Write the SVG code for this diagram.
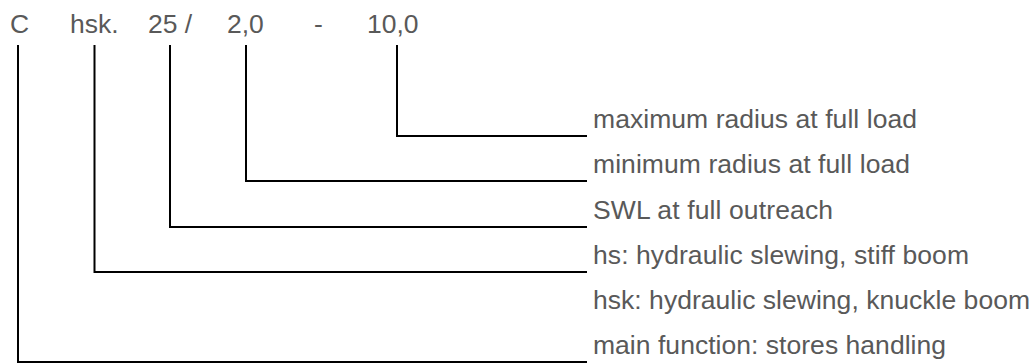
<svg xmlns="http://www.w3.org/2000/svg" width="1035" height="363" viewBox="0 0 1035 363">
<style>
text{font-family:"Liberation Sans",Arial,sans-serif;font-size:26.5px;fill:#595959}
.c{fill:none;stroke:#000;stroke-width:2}
</style>
<rect width="1035" height="363" fill="#fff"/>
<g id="code">
<text x="10" y="33">C</text>
<text x="70" y="33">hsk.</text>
<text x="148" y="33">25 /</text>
<text x="227" y="33">2,0</text>
<text x="314" y="33">-</text>
<text x="367" y="33">10,0</text>
</g>
<g id="connectors">
<polyline class="c" points="397,45 397,136 587,136"/>
<polyline class="c" points="246,45 246,181 587,181"/>
<polyline class="c" points="170,45 170,227 587,227"/>
<polyline class="c" points="94.5,45 94.5,272 587,272"/>
<polyline class="c" points="18,45 18,362 587,362"/>
</g>
<g id="label-max"><text x="593" y="128" textLength="324">maximum radius at full load</text></g>
<g id="label-min"><text x="593" y="173" textLength="317">minimum radius at full load</text></g>
<g id="label-swl"><text x="593" y="219" textLength="240">SWL at full outreach</text></g>
<g id="label-hs"><text x="593" y="264" textLength="376">hs: hydraulic slewing, stiff boom</text></g>
<g id="label-hsk"><text x="593" y="309" textLength="437">hsk: hydraulic slewing, knuckle boom</text></g>
<g id="label-main"><text x="593" y="354" textLength="353">main function: stores handling</text></g>
</svg>
